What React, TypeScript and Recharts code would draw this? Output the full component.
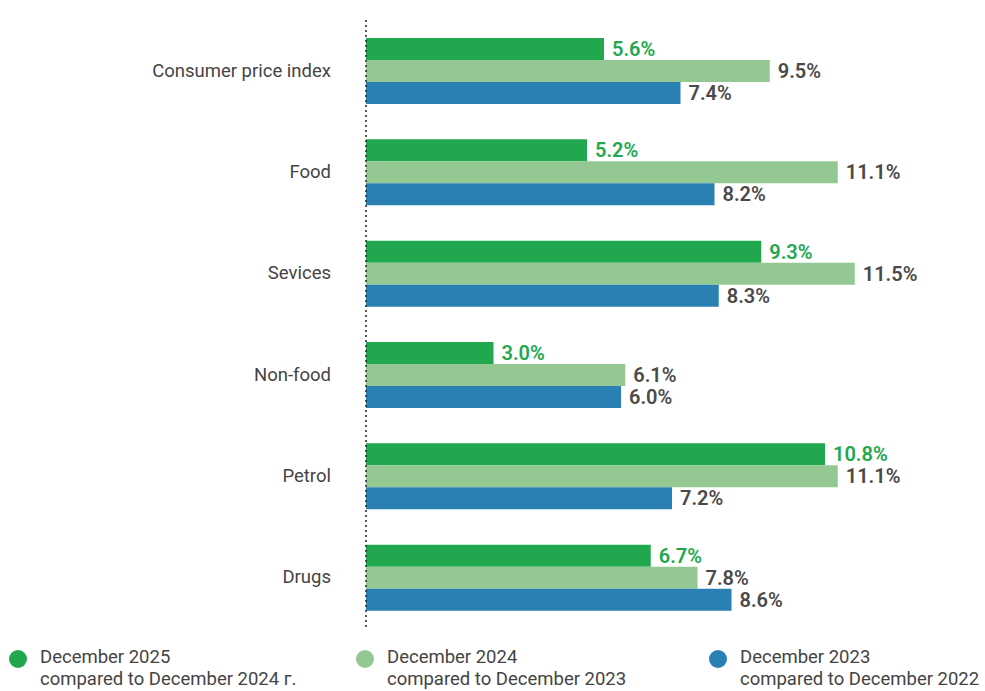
import { BarChart, Bar, XAxis, YAxis, LabelList } from 'recharts';

const categories = ['Consumer price index', 'Food', 'Sevices', 'Non-food', 'Petrol', 'Drugs'];
const dec2025 = [5.6, 5.2, 9.3, 3.0, 10.8, 6.7];
const dec2024 = [9.5, 11.1, 11.5, 6.1, 11.1, 7.8];
const dec2023 = [7.4, 8.2, 8.3, 6.0, 7.2, 8.6];

const legendItems = [
  { line1: 'December 2025', line2: 'compared to December 2024 г.', color: '#21a84e', left: 9 },
  { line1: 'December 2024', line2: 'compared to December 2023', color: '#93c893', left: 356 },
  { line1: 'December 2023', line2: 'compared to December 2022', color: '#2a80b2', left: 709 },
];

const FONT = 'Roboto, "Noto Sans", sans-serif';

const data = categories.map((name, i) => ({
  name,
  d2025: dec2025[i],
  d2024: dec2024[i],
  d2023: dec2023[i],
}));

const fmt = (v: any) => `${Number(v).toFixed(1)}%`;

function CategoryTick({ x, y, payload }: any) {
  return (
    <text x={x - 27} y={y} dy={6} textAnchor="end" fill="#444" fontSize={18.5} fontFamily={FONT}>
      {payload.value}
    </text>
  );
}

const labelStyle = { fontSize: 20, fontWeight: 600, fontFamily: FONT };

export default function App() {
  return (
    <div style={{ position: 'absolute', left: 0, top: 0, width: 985, height: 691, background: '#fff' }}>
      <BarChart
        layout="vertical"
        width={985}
        height={640}
        data={data}
        margin={{ top: 20, right: 24, left: 0, bottom: 12 }}
        barGap={0}
        barSize={22}
      >
        <XAxis type="number" domain={[0, 14]} hide />
        <YAxis
          type="category"
          dataKey="name"
          width={366}
          tickLine={false}
          axisLine={{ stroke: '#222', strokeDasharray: '2 3', strokeWidth: 1.5 }}
          tick={<CategoryTick />}
        />
        <Bar dataKey="d2025" fill="#21a84e" isAnimationActive={false}>
          <LabelList dataKey="d2025" position="right" offset={8} formatter={fmt} fill="#21a84e" {...labelStyle} />
        </Bar>
        <Bar dataKey="d2024" fill="#93c893" isAnimationActive={false}>
          <LabelList dataKey="d2024" position="right" offset={8} formatter={fmt} fill="#4a4a4a" {...labelStyle} />
        </Bar>
        <Bar dataKey="d2023" fill="#2a80b2" isAnimationActive={false}>
          <LabelList dataKey="d2023" position="right" offset={8} formatter={fmt} fill="#4a4a4a" {...labelStyle} />
        </Bar>
      </BarChart>

      {legendItems.map((item) => (
        <div
          key={item.line1}
          style={{
            position: 'absolute',
            left: item.left,
            top: 646,
            display: 'flex',
            alignItems: 'flex-start',
            fontFamily: FONT,
            fontSize: 18.5,
            lineHeight: '22px',
            color: '#444',
          }}
        >
          <span
            style={{
              width: 18,
              height: 18,
              borderRadius: '50%',
              background: item.color,
              marginTop: 4,
              marginRight: 13,
              flexShrink: 0,
            }}
          />
          <div>
            <div>{item.line1}</div>
            <div>{item.line2}</div>
          </div>
        </div>
      ))}
    </div>
  );
}
